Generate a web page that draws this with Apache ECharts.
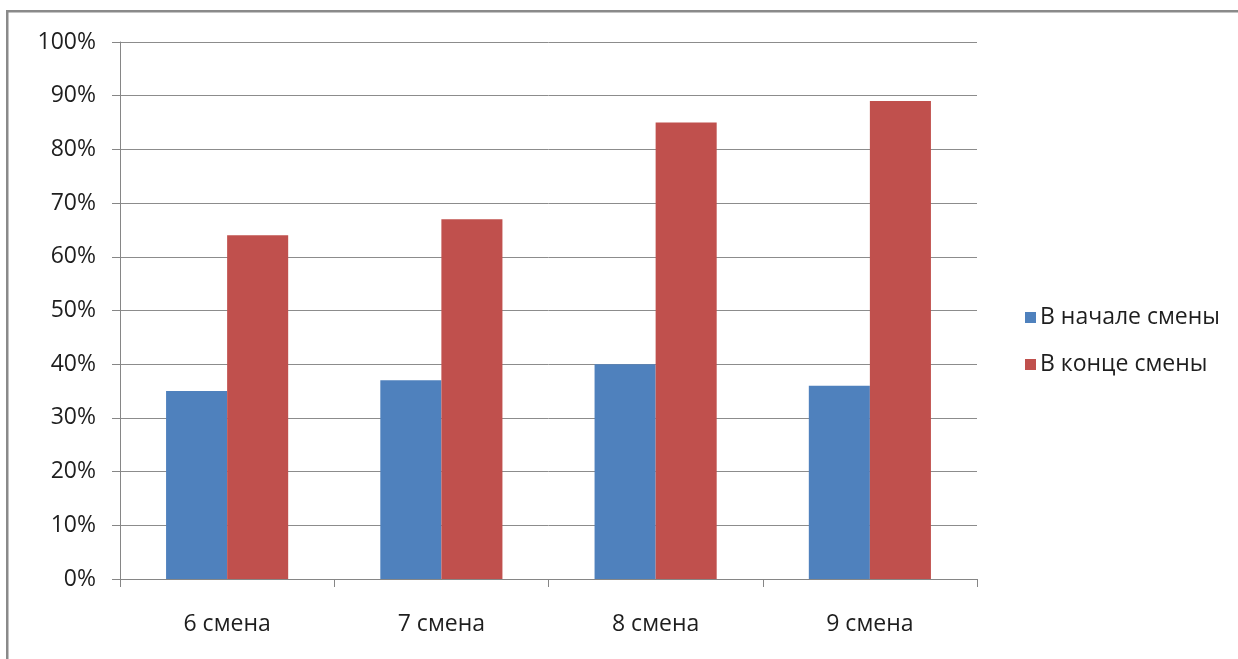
<!DOCTYPE html>
<html>
<head>
<meta charset="utf-8">
<script src="https://cdn.jsdelivr.net/npm/echarts@6/dist/echarts.min.js"></script>
<style>
html,body{margin:0;padding:0;background:#fff;}
#chart{width:1238px;height:659px;}
</style>
</head>
<body>
<div id="chart"></div>
<script>
const categories = ['6 смена', '7 смена', '8 смена', '9 смена'];
const startValues = [35, 37, 40, 36];
const endValues = [64, 67, 85, 89];
const seriesNames = ['В начале смены', 'В конце смены'];
const yTicks = [0, 10, 20, 30, 40, 50, 60, 70, 80, 90, 100];

const FONT = '"Open Sans", sans-serif';
const chart = echarts.init(document.getElementById('chart'), null, {renderer: 'canvas'});
chart.setOption({
  animation: false,
  backgroundColor: '#ffffff',
  graphic: [{
    type: 'rect',
    shape: {x: 7.25, y: 11.25, width: 1300, height: 700},
    style: {fill: 'none', stroke: '#8a8a8a', lineWidth: 2.5},
    silent: true
  }],
  grid: {left: 120, right: 261, top: 42, bottom: 80, containLabel: false},
  legend: {
    orient: 'vertical',
    left: 1020,
    top: 300,
    itemWidth: 11,
    itemHeight: 11,
    itemGap: 22,
    icon: 'rect',
    textStyle: {fontFamily: FONT, fontSize: 23, color: '#1e1e1e', lineHeight: 25, padding: [0, 0, 0, -1]},
    data: seriesNames
  },
  xAxis: {
    type: 'category',
    data: categories,
    axisLine: {lineStyle: {color: '#868686', width: 1}},
    axisTick: {show: true, length: 8, lineStyle: {color: '#868686'}},
    axisLabel: {fontFamily: FONT, fontSize: 23, color: '#1e1e1e', margin: 34}
  },
  yAxis: {
    type: 'value',
    min: yTicks[0],
    max: yTicks[yTicks.length - 1],
    interval: 10,
    axisLine: {show: true, lineStyle: {color: '#868686', width: 1}},
    axisTick: {show: true, length: 8, lineStyle: {color: '#868686'}},
    axisLabel: {fontFamily: FONT, fontSize: 23, color: '#1e1e1e', margin: 24, formatter: v => v + '%'},
    splitLine: {show: true, lineStyle: {color: '#8c8c8c', width: 1}}
  },
  series: [
    {name: seriesNames[0], type: 'bar', data: startValues, barGap: '0%', barCategoryGap: '43%',
     itemStyle: {color: '#4f81bd'}},
    {name: seriesNames[1], type: 'bar', data: endValues, barGap: '0%', barCategoryGap: '43%',
     itemStyle: {color: '#c0504d'}}
  ]
});
</script>
</body>
</html>
